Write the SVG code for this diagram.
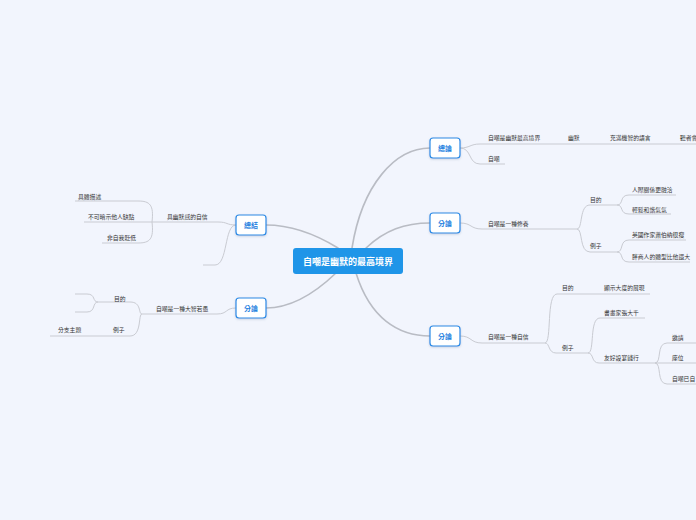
<svg xmlns="http://www.w3.org/2000/svg" width="696" height="520" viewBox="0 0 696 520">
<defs>
<style>
.bg{fill:#f2f5fd}
.main{fill:none;stroke:#b9bcc4;stroke-width:1.6;stroke-linecap:round}
.sub{fill:none;stroke:#c9cbd2;stroke-width:1}
.node rect{fill:#ffffff;stroke:#2b8ae6;stroke-width:1.2}
.node text{font-family:"Noto Sans CJK TC","Noto Sans CJK SC",sans-serif;font-size:7px;font-weight:bold;fill:#1f7fe0;text-anchor:middle}
.lbl{font-family:"Noto Sans CJK TC","Noto Sans CJK SC",sans-serif;font-size:5.8px;fill:#333}
.root rect{fill:#1f95e8}
.root text{font-family:"Noto Sans CJK TC","Noto Sans CJK SC",sans-serif;font-size:9px;font-weight:bold;fill:#ffffff;text-anchor:middle}
</style>
<filter id="sh" x="-20%" y="-20%" width="140%" height="160%"><feDropShadow dx="0" dy="1" stdDeviation="0.8" flood-color="#7a8aa8" flood-opacity="0.35"/></filter>
</defs>
<rect class="bg" x="0" y="0" width="696" height="520"/>
<g id="connectors">
<path class="main" d="M352,248 C362,185 395,148 430,148"/>
<path class="main" d="M366,248 C385,230 405,223 430,223"/>
<path class="main" d="M356,273 C370,318 398,336 430,336"/>
<path class="main" d="M338,248 C312,232 290,225 266,225"/>
<path class="main" d="M336,273 C312,296 290,308 266,308"/>
<path class="sub" d="M460,148 C470,148 470,144 480,144 H696"/>
<path class="sub" d="M460,148 C472,148 468,164 480,164 H505"/>
<path class="sub" d="M460,223 C472,223 470,229 482,229 H577"/>
<path class="sub" d="M577,229 C583,229 579,205 590,205 H617"/>
<path class="sub" d="M577,229 C583,229 579,252 590,252 H617"/>
<path class="sub" d="M617,205 C624,205 619,195 629,195 H676"/>
<path class="sub" d="M617,205 C624,205 619,214 629,214 H671"/>
<path class="sub" d="M617,252 C624,252 619,240 629,240 H686"/>
<path class="sub" d="M617,252 C624,252 619,262 629,262 H690"/>
<path class="sub" d="M460,336 C472,336 470,343 482,343 H545"/>
<path class="sub" d="M545,343 C552,343 546,294 557,294 H650"/>
<path class="sub" d="M545,343 C550,343 548,353 556,353 H588"/>
<path class="sub" d="M588,353 C595,353 589,318 600,318 H645"/>
<path class="sub" d="M588,353 C594,353 591,363 599,363 H655"/>
<path class="sub" d="M655,363 C662,363 656,343 667,343 H696"/>
<path class="sub" d="M655,363 H696"/>
<path class="sub" d="M655,363 C662,363 656,384 667,384 H696"/>
<path class="sub" d="M236,225 C226,225 228,222 218,222 H152"/>
<path class="sub" d="M152,222 C154,205 150,201 138,201 H75"/>
<path class="sub" d="M152,222 H84"/>
<path class="sub" d="M152,222 C154,239 150,243 138,243 H102"/>
<path class="sub" d="M236,225 C224,225 228,265 215,265 H203"/>
<path class="sub" d="M236,308 C225,308 228,314 217,314 H142"/>
<path class="sub" d="M142,314 C138,314 142,302 130,302 H98"/>
<path class="sub" d="M142,314 C138,314 142,336 130,336 H50"/>
<path class="sub" d="M98,302 C92,302 96,294 87,294 H75"/>
<path class="sub" d="M98,302 C92,302 96,312 87,312 H75"/>
</g>
<g id="root" class="root"><rect x="293" y="248" width="110" height="26" rx="3"/><text x="348" y="264.5">自嘲是幽默的最高境界</text></g>
<g id="n-zonglun" class="node"><rect x="430" y="138" width="30" height="20" rx="3" filter="url(#sh)"/><text x="445" y="150.5">總論</text></g>
<g id="n-fenlun1" class="node"><rect x="430" y="213" width="30" height="20" rx="3" filter="url(#sh)"/><text x="445" y="225.5">分論</text></g>
<g id="n-fenlun2" class="node"><rect x="430" y="326" width="30" height="20" rx="3" filter="url(#sh)"/><text x="445" y="338.5">分論</text></g>
<g id="n-zongjie" class="node"><rect x="236" y="215" width="30" height="20" rx="3" filter="url(#sh)"/><text x="251" y="227.5">總結</text></g>
<g id="n-fenlun3" class="node"><rect x="236" y="298" width="30" height="20" rx="3" filter="url(#sh)"/><text x="251" y="310.5">分論</text></g>
<g id="t1"><text class="lbl" x="488" y="139.5">自嘲是幽默最高境界</text></g>
<g id="t2"><text class="lbl" x="568" y="139.5">幽默</text></g>
<g id="t3"><text class="lbl" x="610" y="139.5">充滿機智的語言</text></g>
<g id="t4"><text class="lbl" x="680" y="139.5">聽者會</text></g>
<g id="t5"><text class="lbl" x="488" y="160.5">自嘲</text></g>
<g id="t6"><text class="lbl" x="488" y="225.5">自嘲是一種修養</text></g>
<g id="t7"><text class="lbl" x="590" y="201.5">目的</text></g>
<g id="t8"><text class="lbl" x="632" y="191.5">人際關係更融洽</text></g>
<g id="t9"><text class="lbl" x="632" y="211.5">輕鬆和諧氣氛</text></g>
<g id="t10"><text class="lbl" x="590" y="247.5">例子</text></g>
<g id="t11"><text class="lbl" x="632" y="236.5">英國作家蕭伯納很瘦</text></g>
<g id="t12"><text class="lbl" x="632" y="258.5">胖商人的體型比他還大</text></g>
<g id="t13"><text class="lbl" x="488" y="338.5">自嘲是一種自信</text></g>
<g id="t14"><text class="lbl" x="562" y="289.5">目的</text></g>
<g id="t15"><text class="lbl" x="604" y="289.5">顯示大度的展現</text></g>
<g id="t16"><text class="lbl" x="562" y="349.5">例子</text></g>
<g id="t17"><text class="lbl" x="604" y="314.5">書畫家張大千</text></g>
<g id="t18"><text class="lbl" x="604" y="359.5">友好設宴餞行</text></g>
<g id="t19"><text class="lbl" x="672" y="339.5">邀請</text></g>
<g id="t20"><text class="lbl" x="672" y="359.5">座位</text></g>
<g id="t21"><text class="lbl" x="672" y="380.5">自嘲已自</text></g>
<g id="t22"><text class="lbl" x="167" y="218.5">具幽默感的自信</text></g>
<g id="t23"><text class="lbl" x="78" y="198.5">具體描述</text></g>
<g id="t24"><text class="lbl" x="88" y="218.5">不可暗示他人缺點</text></g>
<g id="t25"><text class="lbl" x="107" y="239.5">非自我貶低</text></g>
<g id="t26"><text class="lbl" x="156" y="310.5">自嘲是一種大智若愚</text></g>
<g id="t27"><text class="lbl" x="114" y="300.5">目的</text></g>
<g id="t28"><text class="lbl" x="113" y="331.5">例子</text></g>
<g id="t29"><text class="lbl" x="58" y="331.5">分支主題</text></g>
</svg>
